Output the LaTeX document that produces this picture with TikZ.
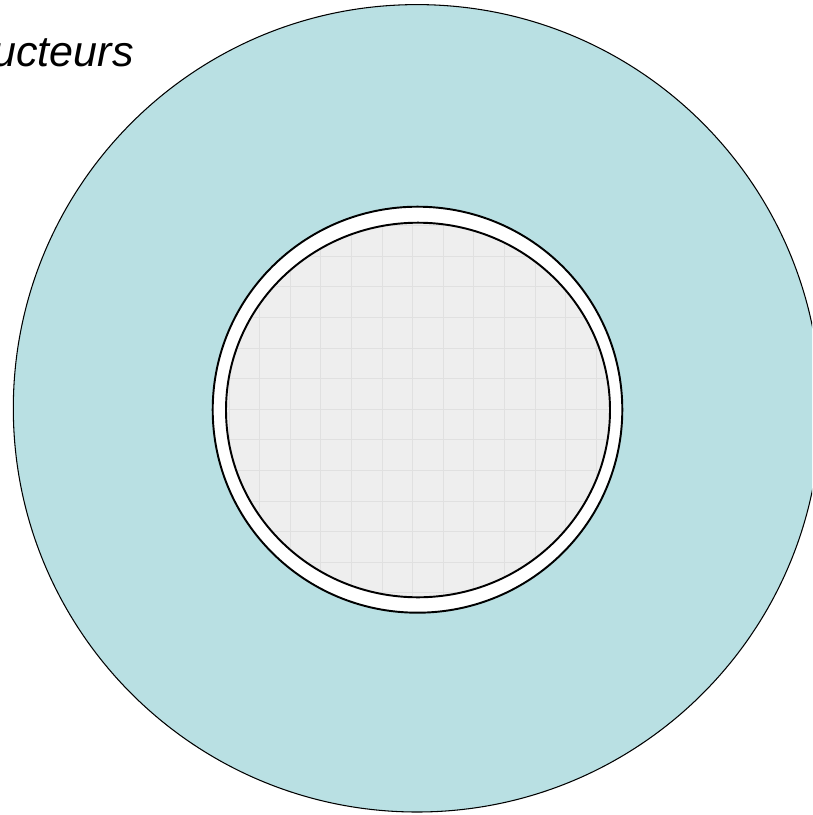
\documentclass[tikz,border=0pt]{standalone}
\usepackage{fontspec}
\setmainfont{Liberation Sans}
\usepackage{tikz}
\definecolor{sheathblue}{RGB}{185,224,227}
\definecolor{coregray}{RGB}{238,238,238}
\definecolor{gridgray}{RGB}{224,224,224}
\tikzset{
  outline/.style={draw=black,line width=0.6pt},
  ringline/.style={draw=black,line width=1.1pt},
  gridline/.style={draw=gridgray,line width=0.5pt},
  cablelabel/.style={font=\itshape\fontsize{24.5}{29}\selectfont,inner sep=0pt}
}
\begin{document}
\begin{tikzpicture}[x=0.02cm,y=-0.02cm]
\useasboundingbox (0,0) rectangle (812,815);
\clip (0,0) rectangle (812,815);

% gaine exterieure
\draw[outline,fill=sheathblue] (417,408.3) circle [radius=403.7];

% isolant blanc
\draw[ringline,fill=white] (417.5,409.7) ellipse [x radius=204.8,y radius=203];

% ame
\begin{scope}
  \clip (418,410) ellipse [x radius=192,y radius=187.3];
  \fill[coregray] (418,410) ellipse [x radius=192,y radius=187.3];
  \foreach \k in {-7,...,7} {
    \draw[gridline] ({412.7+\k*30.6},200) -- ({412.7+\k*30.6},620);
    \draw[gridline] (200,{409.3+\k*30.6}) -- (640,{409.3+\k*30.6});
  }
\end{scope}
\draw[ringline] (418,410) ellipse [x radius=192,y radius=187.3];

\node[cablelabel,anchor=base east] (titre) at (134,66) {Conducteurs};
\end{tikzpicture}
\end{document}
